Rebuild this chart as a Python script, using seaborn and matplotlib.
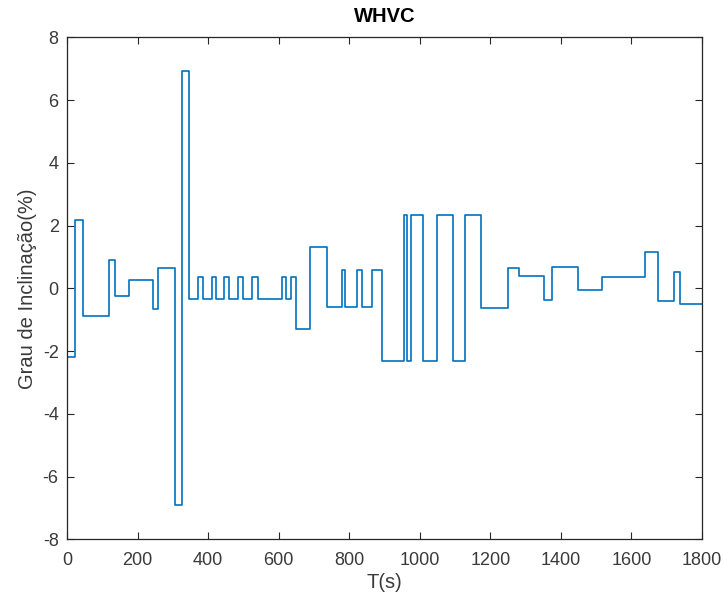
import matplotlib
matplotlib.use("Agg")
import matplotlib.pyplot as plt
import seaborn as sns
import pandas as pd
import numpy as np

# Segment start times (s) and the slope value held from each start time
seg_start = [0, 22, 45, 119, 135, 177, 243, 258, 305, 325, 345,
             372, 386, 410, 423, 446, 460, 485, 499, 524, 541,
             609, 620, 636, 649, 688, 736, 779, 787, 823, 836,
             864, 893, 956, 965, 974, 1009, 1050, 1094, 1128, 1174,
             1249, 1282, 1353, 1375, 1448, 1516, 1637, 1675, 1720, 1738, 1800]
seg_value = [-2.18, 2.18, -0.88, 0.89, -0.24, 0.25, -0.65, 0.64, -6.91, 6.93, -0.35,
             0.35, -0.35, 0.35, -0.35, 0.35, -0.35, 0.35, -0.35, 0.35, -0.35,
             0.35, -0.35, 0.35, -1.30, 1.31, -0.60, 0.58, -0.60, 0.58, -0.60,
             0.58, -2.32, 2.32, -2.32, 2.32, -2.32, 2.32, -2.32, 2.32, -0.64,
             0.64, 0.38, -0.37, 0.69, -0.05, 0.37, 1.17, -0.40, 0.53, -0.51, -0.51]

x_ticks = [0, 200, 400, 600, 800, 1000, 1200, 1400, 1600, 1800]
y_ticks = [-8, -6, -4, -2, 0, 2, 4, 6, 8]

df = pd.DataFrame({"T": seg_start, "grade": seg_value})

sns.set_theme(style="white")
plt.rcParams["font.family"] = ["Liberation Sans", "DejaVu Sans"]

fig = plt.figure(figsize=(7.23, 6.01), dpi=100)
ax = fig.add_axes([0.0927, 0.1027, 0.8783, 0.8353])

sns.lineplot(data=df, x="T", y="grade", ax=ax, drawstyle="steps-post",
             color="#0072BD", linewidth=1.2, sort=False, estimator=None)

ax.set_xlim(0, 1800)
ax.set_ylim(-8, 8)
ax.set_xticks(x_ticks)
ax.set_yticks(y_ticks)
ax.set_xticklabels([str(v) for v in x_ticks], fontsize=13, color="#3a3a3a")
ax.set_yticklabels([str(v) for v in y_ticks], fontsize=13, color="#3a3a3a")
ax.tick_params(direction="in", length=5, width=0.8, color="#262626",
               top=True, right=True, bottom=True, left=True)
ax.tick_params(axis="x", pad=9)
ax.tick_params(axis="y", pad=6)
for s in ax.spines.values():
    s.set_visible(True)
    s.set_color("#262626")
    s.set_linewidth(0.9)
ax.grid(False)

ax.set_xlabel("T(s)", fontsize=14.5, color="#3a3a3a", labelpad=3)
ax.set_ylabel("Grau de Inclinação(%)", fontsize=14.5, color="#3a3a3a", labelpad=4)
ax.set_title("WHVC", fontsize=14.5, fontweight="bold", color="black", pad=11)

fig.savefig("out.png", dpi=100)
